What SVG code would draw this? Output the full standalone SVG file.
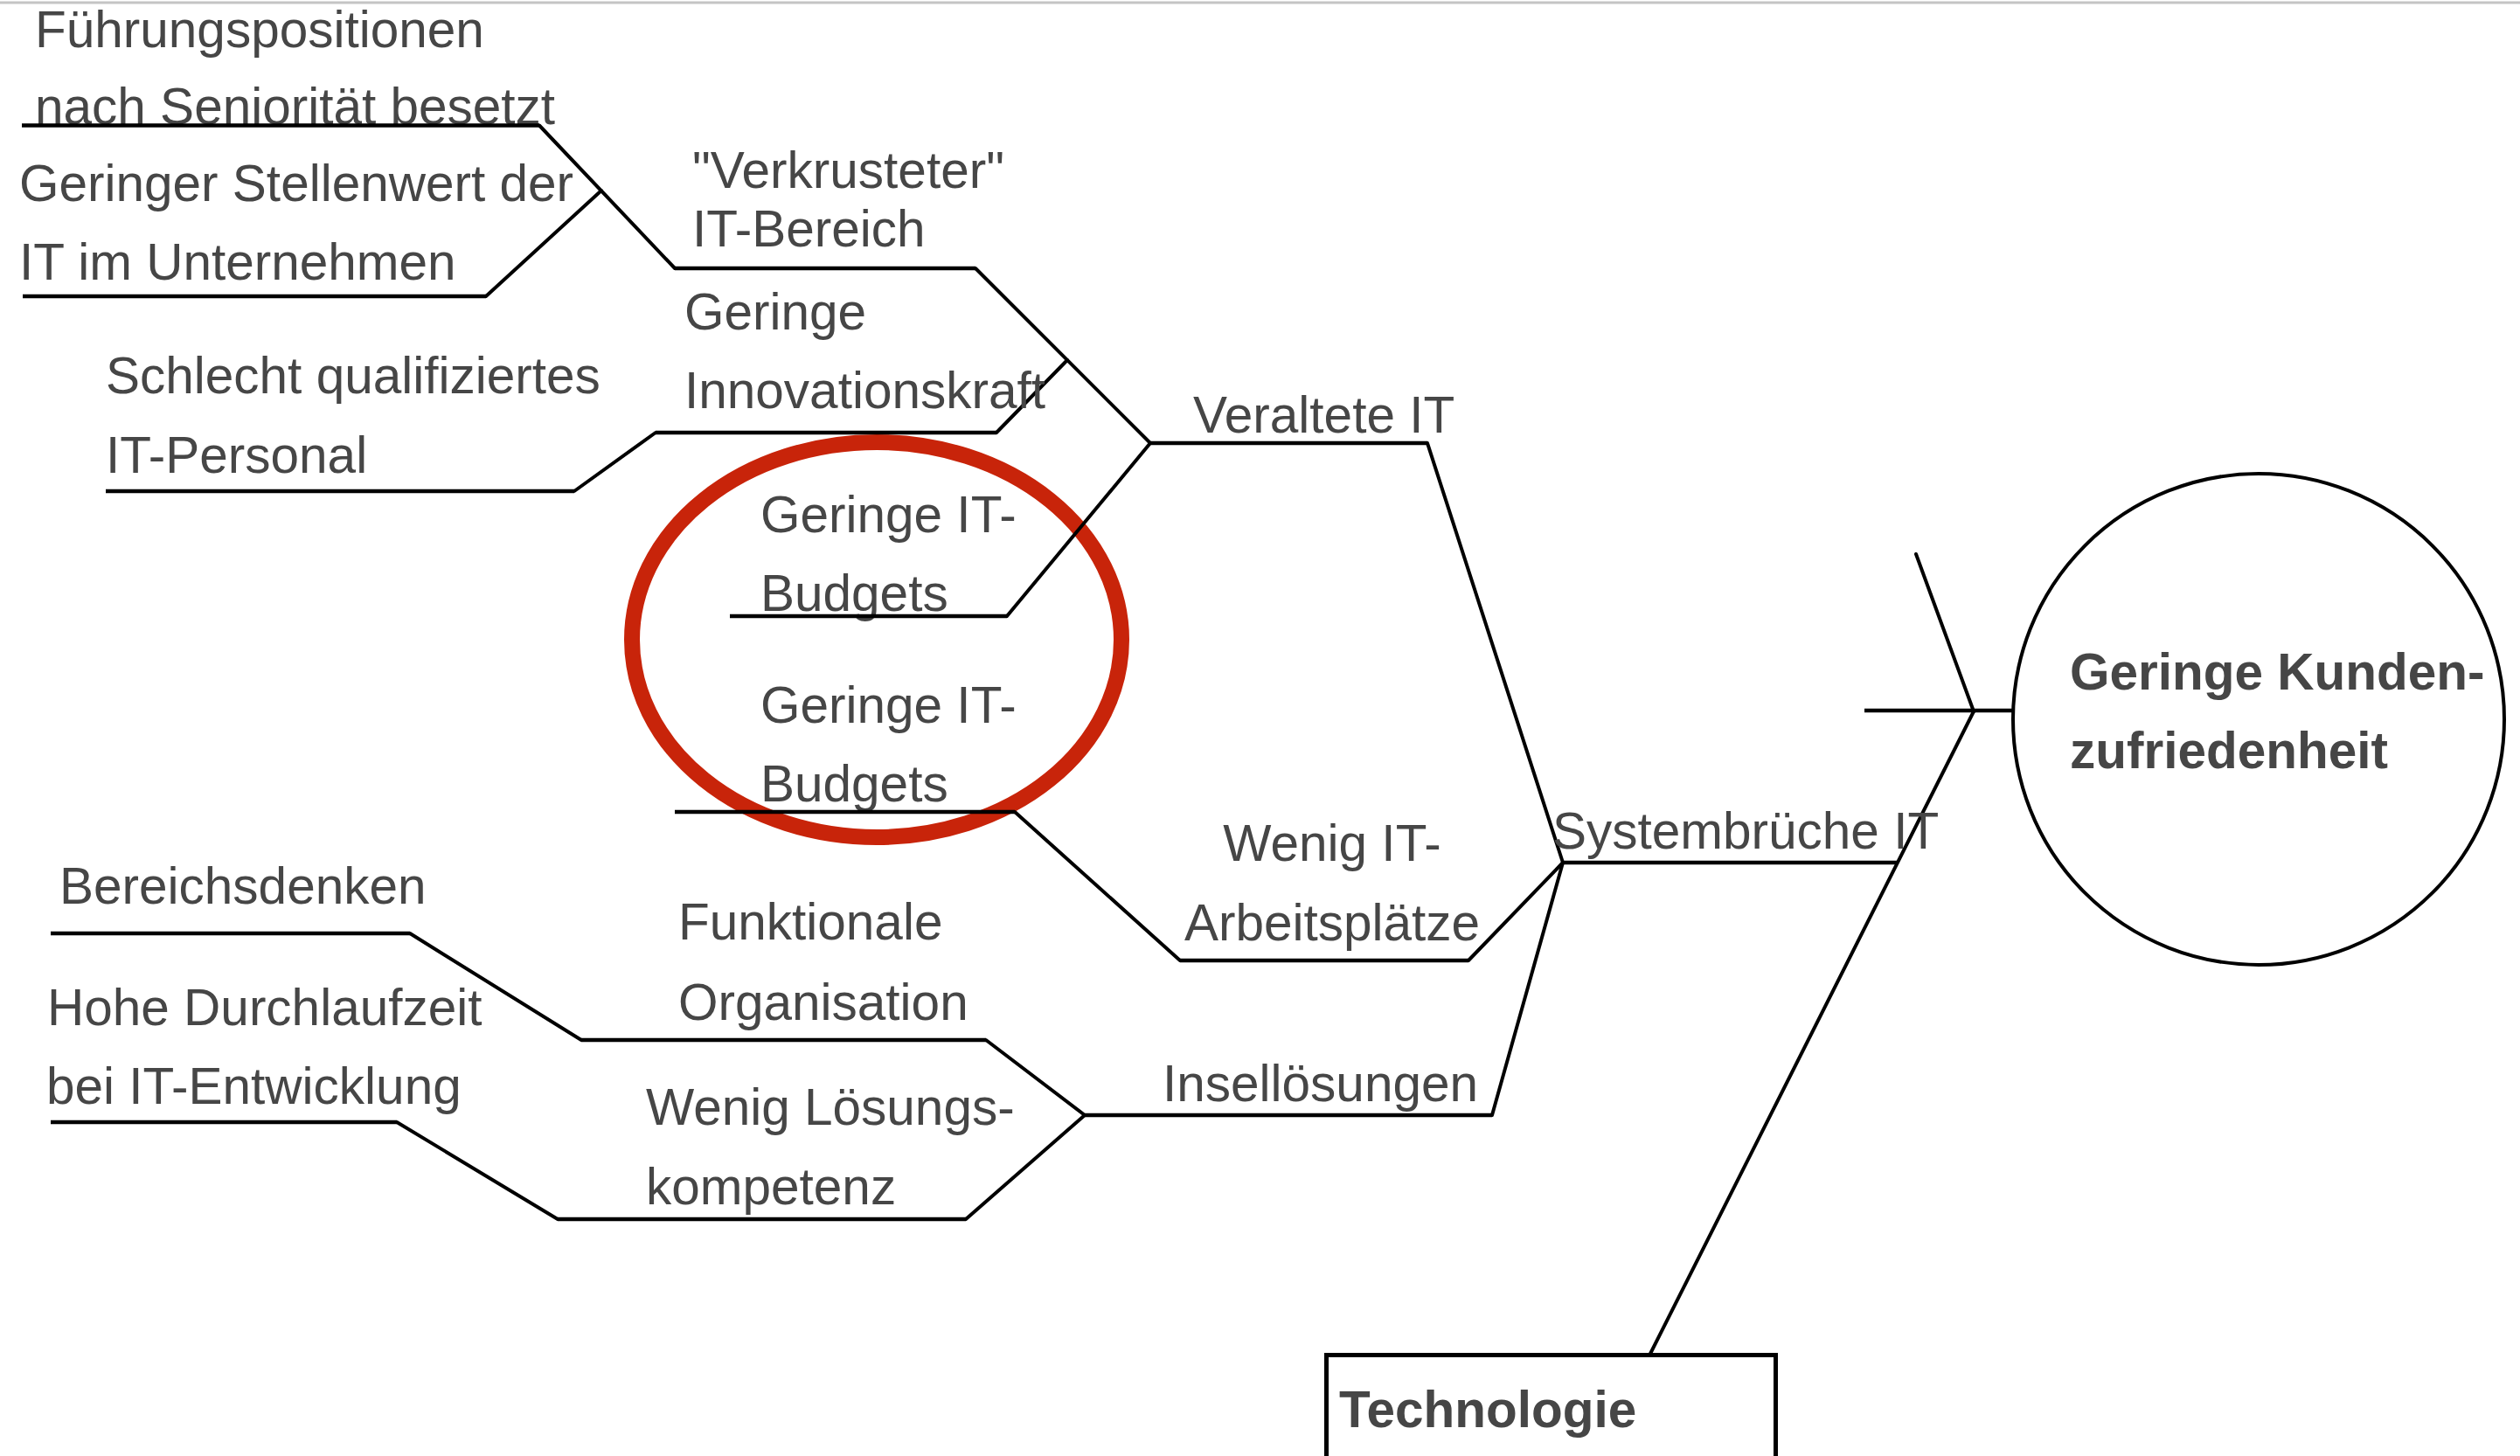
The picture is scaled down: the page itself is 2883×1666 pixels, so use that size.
<svg xmlns="http://www.w3.org/2000/svg" width="2883" height="1666" viewBox="0 0 2883 1666">
<style>
  text { font-family: "Liberation Sans", Arial, Helvetica, sans-serif; font-size: 58.5px; fill: #464646; }
  text.b { font-weight: bold; }
  .h { stroke: #000; stroke-width: 4.5; fill: none; }
  .d { stroke: #000; stroke-width: 4; fill: none; stroke-linecap: round; }
</style>
<rect x="0" y="0" width="2883" height="1666" fill="#fff"/>
<line x1="0" y1="3" x2="2883" y2="3" stroke="#c4c4c4" stroke-width="3"/>

<!-- highlight -->
<ellipse id="highlight" cx="1003" cy="732" rx="280" ry="226" fill="none" stroke="#c8240a" stroke-width="18"/>

<g id="connectors">
  <line class="d" x1="617" y1="143.5" x2="772" y2="307"/>
  <line class="d" x1="556" y1="339" x2="688" y2="218"/>
  <line class="d" x1="657" y1="562" x2="750" y2="495"/>
  <line class="d" x1="1116" y1="307" x2="1316" y2="507"/>
  <line class="d" x1="1140" y1="495" x2="1221" y2="412"/>
  <line class="d" x1="1152" y1="705" x2="1316" y2="507"/>
  <line class="d" x1="1633" y1="507" x2="1788" y2="987"/>
  <line class="d" x1="1161" y1="929" x2="1350" y2="1099"/>
  <line class="d" x1="1680" y1="1099" x2="1788" y2="987"/>
  <line class="d" x1="469" y1="1068" x2="665" y2="1190"/>
  <line class="d" x1="454" y1="1284" x2="638" y2="1395"/>
  <line class="d" x1="1128" y1="1190" x2="1241" y2="1276"/>
  <line class="d" x1="1105" y1="1395" x2="1241" y2="1276"/>
  <line class="d" x1="1707" y1="1276" x2="1788" y2="987"/>
  <line class="d" x1="2192" y1="634" x2="2258" y2="814"/>
  <line class="d" x1="2258" y1="814" x2="1888" y2="1549"/>
  <line class="h" x1="2133" y1="813" x2="2304" y2="813"/>
</g>

<g id="n-fuehrung">
  <text x="40" y="54">Führungspositionen</text>
  <text x="40" y="142">nach Seniorität besetzt</text>
  <line class="h" x1="25" y1="143.5" x2="617" y2="143.5"/>
</g>
<g id="n-stellenwert">
  <text x="22" y="230">Geringer Stellenwert der</text>
  <text x="22" y="320">IT im Unternehmen</text>
  <line class="h" x1="26" y1="339" x2="556" y2="339"/>
</g>
<g id="n-personal">
  <text x="121" y="450">Schlecht qualifiziertes</text>
  <text x="121" y="541">IT-Personal</text>
  <line class="h" x1="121" y1="562" x2="657" y2="562"/>
</g>
<g id="n-verkrustet">
  <text x="792" y="215">"Verkrusteter"</text>
  <text x="792" y="282">IT-Bereich</text>
  <line class="h" x1="772" y1="307" x2="1116" y2="307"/>
</g>
<g id="n-innovation">
  <text x="783" y="377">Geringe</text>
  <text x="783" y="467">Innovationskraft</text>
  <line class="h" x1="750" y1="495" x2="1140" y2="495"/>
</g>
<g id="n-budget1">
  <text x="870" y="609">Geringe IT-</text>
  <text x="870" y="699">Budgets</text>
  <line class="h" x1="835" y1="705" x2="1152" y2="705"/>
</g>
<g id="n-veraltet">
  <text x="1365" y="495">Veraltete IT</text>
  <line class="h" x1="1316" y1="507" x2="1633" y2="507"/>
</g>
<g id="n-budget2">
  <text x="870" y="827">Geringe IT-</text>
  <text x="870" y="917">Budgets</text>
  <line class="h" x1="772" y1="929" x2="1161" y2="929"/>
</g>
<g id="n-arbeitsplaetze">
  <text x="1524" y="985" text-anchor="middle">Wenig IT-</text>
  <text x="1524" y="1076" text-anchor="middle">Arbeitsplätze</text>
  <line class="h" x1="1350" y1="1099" x2="1680" y2="1099"/>
</g>
<g id="n-systembrueche">
  <text x="1776" y="971">Systembrüche IT</text>
  <line class="h" x1="1788" y1="987" x2="2170" y2="987"/>
</g>
<g id="n-bereichsdenken">
  <text x="68" y="1034">Bereichsdenken</text>
  <line class="h" x1="58" y1="1068" x2="469" y2="1068"/>
</g>
<g id="n-funktional">
  <text x="776" y="1075">Funktionale</text>
  <text x="776" y="1167">Organisation</text>
  <line class="h" x1="665" y1="1190" x2="1128" y2="1190"/>
</g>
<g id="n-durchlaufzeit">
  <text x="54" y="1173">Hohe Durchlaufzeit</text>
  <text x="53" y="1263">bei IT-Entwicklung</text>
  <line class="h" x1="58" y1="1284" x2="454" y2="1284"/>
</g>
<g id="n-loesung">
  <text x="739" y="1287">Wenig Lösungs-</text>
  <text x="739" y="1378">kompetenz</text>
  <line class="h" x1="638" y1="1395" x2="1105" y2="1395"/>
</g>
<g id="n-insel">
  <text x="1330" y="1260">Insellösungen</text>
  <line class="h" x1="1241" y1="1276" x2="1707" y2="1276"/>
</g>
<g id="n-effekt">
  <circle cx="2584" cy="823" r="281" fill="none" stroke="#000" stroke-width="4"/>
  <text class="b" x="2368" y="789">Geringe Kunden-</text>
  <text class="b" x="2368" y="879">zufriedenheit</text>
</g>
<g id="n-technologie">
  <rect x="1517.5" y="1550.5" width="514" height="150" fill="none" stroke="#000" stroke-width="5"/>
  <text class="b" x="1532" y="1633">Technologie</text>
</g>
</svg>
